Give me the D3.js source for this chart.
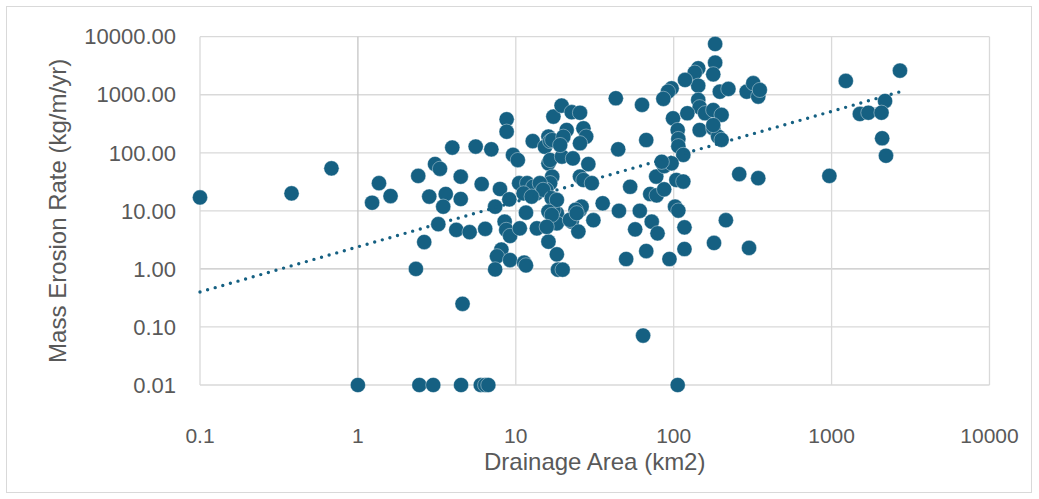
<!DOCTYPE html>
<html>
<head>
<meta charset="utf-8">
<script src="https://cdn.jsdelivr.net/npm/d3@7"></script>
<style>
  body { margin: 0; background: #fff; }
  svg text { font-family: "Liberation Sans", Arial, sans-serif; fill: #595959; }
</style>
</head>
<body>
<script>
const AREA = [
  0.1, 0.38, 0.68, 1.0, 1.23, 1.36, 1.61, 2.33, 2.63, 3.23, 4.2, 5.1, 4.6, 6.4, 7.4, 8.5, 8.7, 9.2, 8.1, 7.6,
  9.2, 7.4, 2.45, 3.0, 4.5, 6.0, 6.4, 6.7, 2.41, 2.83, 3.08, 3.31, 3.6, 3.47, 3.96, 4.48, 4.48, 5.57, 6.08, 7.0,
  7.94, 8.75, 8.75, 9.1, 9.6, 10.3,
  11.6, 11.3, 11.6, 10.6, 13.6, 16.1, 18.2, 18.5, 19.8, 16.5, 18.2, 18.2, 22.6, 24.9, 25.5, 26.1, 31, 10.5, 12.8, 16.1,
  15.3, 17.3, 19.5, 22.6, 25.5, 21, 26.8, 27.9, 25.5, 16.5, 17, 16.1, 16.5, 19.6, 23, 28.8, 17, 16.5, 25.5, 26.8,
  30.3, 35.5, 23.9, 17.3, 13.5, 15.6, 20, 19.1, 11.8, 12.9, 14.2, 14.9, 11.2, 12.6, 16.9, 18.2, 16.1, 16.9, 15.7, 22,
  24.3,
  64, 106, 45, 61, 72.6, 57, 79, 50, 67, 94, 117, 117, 180, 214, 300, 102, 107, 71, 78, 87,
  183, 183, 178, 143, 136, 143, 118, 97, 92, 86, 43, 63, 196, 222, 290, 319, 343, 351, 143, 146,
  99, 122, 158, 178, 201, 146, 178, 191, 201, 106, 107, 107, 115, 67, 44.5, 53, 77.5, 87, 97, 104,
  115, 260, 343, 1230, 2710, 2180, 1510, 1710, 2070, 2090, 2210, 968, 84, 178
];
const RATE = [
  17, 20, 54, 0.01, 13.8, 30, 18, 1.0, 2.9, 5.9, 4.7, 4.3, 0.25, 4.9, 11.8, 6.5, 4.7, 3.7, 2.15, 1.65,
  1.42, 0.98, 0.01, 0.01, 0.01, 0.01, 0.01, 0.01, 40, 17.6, 64, 53, 19.5, 11.8, 123, 38.8, 16, 128, 29, 115,
  23.8, 378, 231, 15.8, 92, 75,
  9.3, 1.28, 1.15, 5.0, 5.0, 2.94, 1.78, 0.97, 0.97, 9.1, 9.1, 6.1, 6.5, 4.4, 10.4, 11.8, 6.9, 30, 159, 190,
  127, 420, 650, 500, 490, 247, 264, 190, 146, 159, 166, 66, 75, 86, 80, 64, 38.8, 30, 39, 34,
  30, 13.5, 10.4, 10.4, 20, 23, 189, 136, 30, 26, 30, 23, 20, 17.6, 16.5, 15.4, 9.7, 8.5, 5.3, 7.0,
  9.1,
  0.071, 0.01, 10, 10, 6.5, 4.8, 4.1, 1.48, 2.03, 1.48, 5.2, 2.2, 2.8, 6.9, 2.3, 11.8, 10.1, 19.5, 18.5, 23.5,
  7500, 3570, 2250, 2860, 2400, 1430, 1800, 1290, 1130, 850, 870, 670, 1130, 1260, 1130, 1580, 930, 1210, 815, 610,
  393, 480, 480, 545, 450, 247, 264, 190, 167, 247, 173, 130, 92, 166, 115, 26, 39, 59, 66, 34,
  32, 43, 36.6, 1730, 2600, 780, 467, 490, 490, 178, 89, 40, 70, 300
];

const X_TICKS = [0.1, 1, 10, 100, 1000, 10000];
const Y_TICKS = [0.01, 0.1, 1, 10, 100, 1000, 10000];

// power trendline y = a * x^b as it appears on the chart
const TREND_A = 2.4;
const TREND_B = 0.778;
const TREND_RANGE = [0.1, 2710];

const X_TITLE = "Drainage Area (km2)";
const Y_TITLE = "Mass Erosion Rate (kg/m/yr)";

const width = 1039, height = 499;
const plot = { left: 200, right: 989.5, top: 36.7, bottom: 385 };
const COLOR = "#156082";

const svg = d3.select("body").append("svg")
  .attr("width", width)
  .attr("height", height);

svg.append("rect")
  .attr("x", 6.5).attr("y", 6.5)
  .attr("width", 1025).attr("height", 486)
  .attr("fill", "#fff")
  .attr("stroke", "#d9d9d9");

const x = d3.scaleLog().domain([0.1, 10000]).range([plot.left, plot.right]);
const y = d3.scaleLog().domain([0.01, 10000]).range([plot.bottom, plot.top]);

// gridlines, the lines through 1 are the axes
const grid = svg.append("g");
grid.selectAll(".hgrid").data(Y_TICKS).join("line")
  .attr("x1", plot.left).attr("x2", plot.right)
  .attr("y1", d => y(d)).attr("y2", d => y(d))
  .attr("stroke", d => d === 1 ? "#c4c4c4" : "#d9d9d9")
  .attr("stroke-width", 1.3);
grid.selectAll(".vgrid").data(X_TICKS).join("line")
  .attr("x1", d => x(d)).attr("x2", d => x(d))
  .attr("y1", plot.top).attr("y2", plot.bottom)
  .attr("stroke", d => d === 1 ? "#c4c4c4" : "#d9d9d9")
  .attr("stroke-width", 1.3);

// tick labels
svg.append("g").selectAll("text").data(Y_TICKS).join("text")
  .attr("x", 176)
  .attr("y", d => y(d))
  .attr("dy", "0.35em")
  .attr("text-anchor", "end")
  .style("font-size", "22px")
  .text(d => d3.format(".2f")(d));

svg.append("g").selectAll("text").data(X_TICKS).join("text")
  .attr("x", d => x(d))
  .attr("y", 436)
  .attr("dy", "0.35em")
  .attr("text-anchor", "middle")
  .style("font-size", "21px")
  .text(d => String(d));

// axis titles
svg.append("text")
  .attr("x", (plot.left + plot.right) / 2)
  .attr("y", 462)
  .attr("dy", "0.35em")
  .attr("text-anchor", "middle")
  .style("font-size", "24px")
  .text(X_TITLE);

svg.append("text")
  .attr("transform", `translate(58,${(plot.top + plot.bottom) / 2}) rotate(-90)`)
  .attr("dy", "0.35em")
  .attr("text-anchor", "middle")
  .style("font-size", "24px")
  .text(Y_TITLE);

// points
const points = AREA.map((a, i) => ({ area: a, rate: RATE[i] }));
svg.append("g").selectAll("circle").data(points).join("circle")
  .attr("cx", d => x(d.area))
  .attr("cy", d => y(d.rate))
  .attr("r", 7.6)
  .attr("fill", COLOR)
  .attr("stroke", "rgba(255,255,255,0.55)")
  .attr("stroke-width", 0.7);

// dotted power trendline
const trend = TREND_RANGE.map(v => ({ area: v, rate: TREND_A * Math.pow(v, TREND_B) }));
svg.append("path")
  .datum(trend)
  .attr("d", d3.line().x(d => x(d.area)).y(d => y(d.rate)))
  .attr("fill", "none")
  .attr("stroke", COLOR)
  .attr("stroke-width", 3.4)
  .attr("stroke-linecap", "round")
  .attr("stroke-dasharray", "0 7.9");
</script>
</body>
</html>
